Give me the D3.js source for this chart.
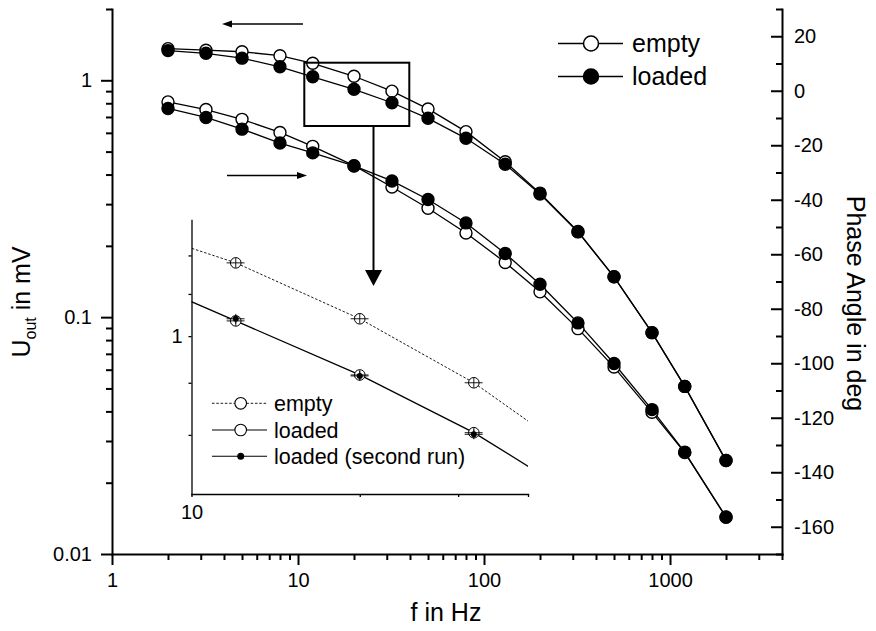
<!DOCTYPE html>
<html>
<head>
<meta charset="utf-8">
<script src="https://cdn.jsdelivr.net/npm/d3@7"></script>
<style>
  html, body { margin: 0; padding: 0; background: #fff; }
  svg { display: block; font-family: Arial, "Liberation Sans", sans-serif; }
</style>
</head>
<body>
<svg id="chart" width="876" height="631"></svg>
<script>
// frequencies in Hz
var freq = [2, 3.2, 5, 8, 12, 20, 32, 50, 80, 130, 200, 320, 500, 800, 1200, 2000];

// output amplitude in mV (left axis)
var ampEmpty  = [1.36, 1.34, 1.32, 1.27, 1.18, 1.04, 0.90, 0.757, 0.607, 0.453, 0.334, 0.230, 0.148, 0.086, 0.051, 0.0248];
var ampLoaded = [1.335, 1.30, 1.24, 1.14, 1.035, 0.916, 0.804, 0.691, 0.569, 0.442, 0.331, 0.229, 0.148, 0.086, 0.051, 0.0248];

// phase angle in deg (right axis)
var phaseEmpty  = [-4.1, -6.9, -10.5, -15.3, -20.4, -27.5, -35.3, -43.1, -52.2, -63.0, -73.8, -87.3, -101.4, -118.0, -132.8, -156.5];
var phaseLoaded = [-6.5, -9.8, -14.1, -19.2, -22.8, -27.6, -33.1, -39.9, -48.5, -59.7, -71.0, -85.2, -100.1, -117.0, -132.6, -156.4];

// inset: second run of the loaded measurement and error bars
var insetFreq = [12, 20, 32];
var ampLoadedRun2 = [1.04, 0.914, 0.801];
var insetFreqErr = 0.037;   // relative
var insetAmpErr = 0.011;    // relative

var xTicks = [1, 10, 100, 1000];
var ampTicks = [0.01, 0.1, 1];
var phaseTicks = d3.range(-160, 21, 20);
var phaseMinor = d3.range(-170, 31, 20);

var svg = d3.select("#chart");
var font = 'Arial, "Liberation Sans", sans-serif';

var x = d3.scaleLog().domain([1, 4000]).range([112, 782]);
var yAmp = d3.scaleLog().domain([0.01, 2]).range([554, 9]);
var yPh = d3.scaleLinear().domain([-170, 30]).range([554, 9]);

function minorLog(lo, hi) {
  var out = [];
  for (var e = Math.floor(Math.log10(lo)); e <= Math.ceil(Math.log10(hi)); e++) {
    for (var m = 2; m <= 9; m++) {
      var v = m * Math.pow(10, e);
      if (v >= lo * 0.999 && v <= hi * 1.001) out.push(v);
    }
  }
  return out;
}

function styleAxis(g, w, fs) {
  g.attr("font-family", font).attr("font-size", fs);
  g.select(".domain").attr("stroke-width", w).attr("stroke-linecap", "square");
  g.selectAll(".tick line").attr("stroke-width", w);
  g.selectAll(".tick text").attr("fill", "#000");
}
function minorAxis(g, w) {
  g.select(".domain").remove();
  g.selectAll(".tick line").attr("stroke-width", w);
  g.selectAll(".tick text").remove();
}
var plain = function(d) { return String(d); };

// ---- main axes ----
svg.append("g").attr("transform", "translate(0,554)")
  .call(d3.axisBottom(x).tickValues(minorLog(1, 4000)).tickSize(6).tickSizeOuter(0))
  .call(minorAxis, 2);
svg.append("g").attr("transform", "translate(0,554)")
  .call(d3.axisBottom(x).tickValues(xTicks).tickFormat(plain).tickSize(11).tickSizeOuter(0).tickPadding(8))
  .call(styleAxis, 2, 20);

svg.append("g").attr("transform", "translate(112,0)")
  .call(d3.axisLeft(yAmp).tickValues(minorLog(0.01, 2)).tickSize(6).tickSizeOuter(0))
  .call(minorAxis, 2);
svg.append("g").attr("transform", "translate(112,0)")
  .call(d3.axisLeft(yAmp).tickValues(ampTicks).tickFormat(plain).tickSize(11).tickSizeOuter(0).tickPadding(9))
  .call(styleAxis, 2, 20);

svg.append("g").attr("transform", "translate(782,0)")
  .call(d3.axisRight(yPh).tickValues(phaseMinor).tickSize(-6).tickSizeOuter(0))
  .call(minorAxis, 2);
svg.append("g").attr("transform", "translate(782,0)")
  .call(d3.axisRight(yPh).tickValues(phaseTicks).tickFormat(plain).tickSize(-11).tickSizeOuter(0).tickPadding(12))
  .call(styleAxis, 2, 20);

// ---- axis titles ----
svg.append("text").attr("x", 446).attr("y", 621).attr("text-anchor", "middle")
  .attr("font-size", 25).text("f in Hz");

var lt = svg.append("text").attr("transform", "translate(29.5,302) rotate(-90)")
  .attr("text-anchor", "middle").attr("font-size", 25);
lt.append("tspan").text("U");
lt.append("tspan").attr("font-size", 16).attr("dy", 6).text("out");
lt.append("tspan").attr("dy", -6).text(" in mV");

svg.append("text").attr("transform", "translate(847,303.5) rotate(90)")
  .attr("text-anchor", "middle").attr("font-size", 25).text("Phase Angle in deg");

// ---- main curves ----
function pts(vals) { return freq.map(function(f, i) { return { f: f, v: vals[i] }; }); }
var series = [
  { data: pts(phaseEmpty), y: yPh, filled: false },
  { data: pts(phaseLoaded), y: yPh, filled: true },
  { data: pts(ampEmpty), y: yAmp, filled: false },
  { data: pts(ampLoaded), y: yAmp, filled: true }
];

series.forEach(function(s) {
  var line = d3.line().x(function(d) { return x(d.f); }).y(function(d) { return s.y(d.v); });
  svg.append("path").attr("d", line(s.data)).attr("fill", "none")
    .attr("stroke", "#000").attr("stroke-width", 1.3);
});
[false, true].forEach(function(filled) {
  series.filter(function(s) { return s.filled === filled; }).forEach(function(s) {
    svg.append("g").selectAll("circle").data(s.data).enter().append("circle")
      .attr("cx", function(d) { return x(d.f); })
      .attr("cy", function(d) { return s.y(d.v); })
      .attr("r", 6)
      .attr("fill", filled ? "#000" : "#fff")
      .attr("stroke", "#000").attr("stroke-width", 1.4);
  });
});

// ---- main legend ----
[["empty", false, 43.5], ["loaded", true, 76.5]].forEach(function(r) {
  svg.append("line").attr("x1", 558).attr("x2", 623).attr("y1", r[2]).attr("y2", r[2])
    .attr("stroke", "#000").attr("stroke-width", 1.3);
  svg.append("circle").attr("cx", 591).attr("cy", r[2]).attr("r", 7.5)
    .attr("fill", r[1] ? "#000" : "#fff").attr("stroke", "#000").attr("stroke-width", 1.5);
  svg.append("text").attr("x", 632).attr("y", r[2]).attr("dy", "0.35em")
    .attr("font-size", 25).text(r[0]);
});

// ---- annotation arrows and zoom box ----
svg.append("line").attr("x1", 303).attr("x2", 230).attr("y1", 24).attr("y2", 24)
  .attr("stroke", "#000").attr("stroke-width", 1.5);
svg.append("path").attr("d", "M222,24L232,20.5L232,27.5Z").attr("fill", "#000");
svg.append("line").attr("x1", 227).attr("x2", 299).attr("y1", 175.5).attr("y2", 175.5)
  .attr("stroke", "#000").attr("stroke-width", 1.5);
svg.append("path").attr("d", "M307,175.5L297,172L297,179Z").attr("fill", "#000");

svg.append("rect").attr("x", 304.3).attr("y", 62.7).attr("width", 105).attr("height", 63.3)
  .attr("fill", "none").attr("stroke", "#000").attr("stroke-width", 2);
svg.append("line").attr("x1", 373.5).attr("x2", 373.5).attr("y1", 126).attr("y2", 271)
  .attr("stroke", "#000").attr("stroke-width", 2);
svg.append("path").attr("d", "M365,270L382,270L373.5,286Z").attr("fill", "#000");

// ---- inset ----
var xi = d3.scaleLog().domain([10, 40]).range([191.5, 528]);
var yi = d3.scaleLog().domain([0.7, 1.3]).range([494, 220]);

svg.append("clipPath").attr("id", "insetClip").append("rect")
  .attr("x", 191.5).attr("y", 220).attr("width", 528 - 191.5).attr("height", 494 - 220);

var inset = svg.append("g");
inset.append("g").attr("transform", "translate(0,494)")
  .call(d3.axisBottom(xi).tickValues([10, 20, 30, 40]).tickFormat(function(d) { return d === 10 ? "10" : ""; })
    .tickSize(3).tickSizeOuter(0).tickPadding(8))
  .call(styleAxis, 1.3, 20);
inset.append("g").attr("transform", "translate(191.5,0)")
  .call(d3.axisLeft(yi).tickValues([0.8, 0.9, 1, 1.1, 1.2]).tickFormat(function(d) { return d === 1 ? "1" : ""; })
    .tickSize(3).tickSizeOuter(0).tickPadding(6))
  .call(styleAxis, 1.3, 20);

var plotI = inset.append("g").attr("clip-path", "url(#insetClip)");
var lineI = d3.line().x(function(d) { return xi(d.f); }).y(function(d) { return yi(d.v); });
plotI.append("path").attr("d", lineI(pts(ampEmpty))).attr("fill", "none")
  .attr("stroke", "#000").attr("stroke-width", 0.9).attr("stroke-dasharray", "2.5,1.8");
plotI.append("path").attr("d", lineI(pts(ampLoaded))).attr("fill", "none")
  .attr("stroke", "#000").attr("stroke-width", 1.3);

function insetPoints(vals) {
  return insetFreq.map(function(f, i) { return { f: f, v: vals[i] }; });
}
var emptyI = insetPoints(insetFreq.map(function(f) { return ampEmpty[freq.indexOf(f)]; }));
var loadedI = insetPoints(insetFreq.map(function(f) { return ampLoaded[freq.indexOf(f)]; }));
var run2I = insetPoints(ampLoadedRun2);

function drawInsetSet(data, kind) {
  var g = plotI.append("g");
  if (kind !== "dot") {
    g.selectAll("circle").data(data).enter().append("circle")
      .attr("cx", function(d) { return xi(d.f); }).attr("cy", function(d) { return yi(d.v); })
      .attr("r", 5.3).attr("fill", "#fff").attr("stroke", "#000").attr("stroke-width", 1);
  }
  g.selectAll("line.eh").data(data).enter().append("line").attr("class", "eh")
    .attr("x1", function(d) { return xi(d.f * (1 - insetFreqErr)); })
    .attr("x2", function(d) { return xi(d.f * (1 + insetFreqErr)); })
    .attr("y1", function(d) { return yi(d.v); }).attr("y2", function(d) { return yi(d.v); })
    .attr("stroke", "#000").attr("stroke-width", 0.9);
  g.selectAll("line.ev").data(data).enter().append("line").attr("class", "ev")
    .attr("x1", function(d) { return xi(d.f); }).attr("x2", function(d) { return xi(d.f); })
    .attr("y1", function(d) { return yi(d.v * (1 - insetAmpErr)); })
    .attr("y2", function(d) { return yi(d.v * (1 + insetAmpErr)); })
    .attr("stroke", "#000").attr("stroke-width", 0.9);
  if (kind === "dot") {
    g.selectAll("circle").data(data).enter().append("circle")
      .attr("cx", function(d) { return xi(d.f); }).attr("cy", function(d) { return yi(d.v); })
      .attr("r", 3).attr("fill", "#000");
  }
}
drawInsetSet(emptyI, "open");
drawInsetSet(loadedI, "open");
drawInsetSet(run2I, "dot");

// inset legend
[["empty", "dash", 403.3], ["loaded", "open", 430], ["loaded (second run)", "dot", 456.3]].forEach(function(r) {
  var ln = inset.append("line").attr("x1", 212).attr("x2", 267).attr("y1", r[2]).attr("y2", r[2])
    .attr("stroke", "#000").attr("stroke-width", r[1] === "dash" ? 0.9 : 1.1);
  if (r[1] === "dash") ln.attr("stroke-dasharray", "2.5,1.8");
  if (r[1] === "dot") {
    inset.append("circle").attr("cx", 240.7).attr("cy", r[2]).attr("r", 3.5).attr("fill", "#000");
  } else {
    inset.append("circle").attr("cx", 240.7).attr("cy", r[2]).attr("r", 5.8)
      .attr("fill", "#fff").attr("stroke", "#000").attr("stroke-width", 1.1);
  }
  inset.append("text").attr("x", 274).attr("y", r[2]).attr("dy", "0.35em")
    .attr("font-size", 21.5).text(r[0]);
});
</script>
</body>
</html>
